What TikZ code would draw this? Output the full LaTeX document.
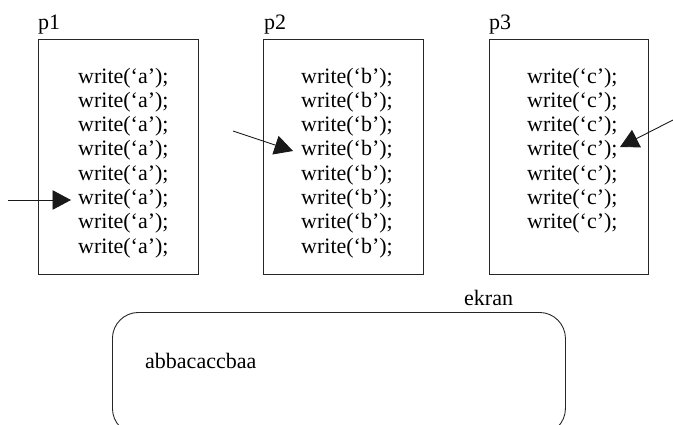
\documentclass[tikz,border=0pt]{standalone}
\usepackage{fontspec}
\setmainfont{Liberation Serif}
\usetikzlibrary{arrows.meta}

\tikzset{
  frame/.style={draw=black!85, line width=0.9pt, inner sep=0pt, anchor=north west},
  codeline/.style={anchor=base west, inner sep=0pt, font=\fontsize{22}{24}\selectfont},
  label/.style={anchor=base west, inner sep=0pt, font=\fontsize{22}{24}\selectfont},
  pointer/.style={draw=black!90, line width=0.9pt, -{Triangle[length=18.5pt,width=19.5pt]}}
}

\begin{document}
\begin{tikzpicture}[x=1pt, y=-1pt]
  \useasboundingbox (0,0) rectangle (673,424);
  \clip (0,0) rectangle (673,424);

  % process boxes
  \node[frame, minimum width=160pt, minimum height=235pt] (p1box) at (38,39) {};
  \node[frame, minimum width=160pt, minimum height=235pt] (p2box) at (263,39) {};
  \node[frame, minimum width=159pt, minimum height=235pt] (p3box) at (489,39) {};

  % box titles
  \node[label] (p1) at (38,29) {p1};
  \node[label] (p2) at (264,29) {p2};
  \node[label] (p3) at (489,29) {p3};

  % code listings
  \foreach \k in {1,...,8}
    \node[codeline] (a\k) at (78, {83+24.3*(\k-1)}) {write(‘a’);};
  \foreach \k in {1,...,8}
    \node[codeline] (b\k) at (301, {83+24.3*(\k-1)}) {write(‘b’);};
  \foreach \k in {1,...,7}
    \node[codeline] (c\k) at (527, {83+24.3*(\k-1)}) {write(‘c’);};

  % instruction pointers
  \coordinate (s1) at (8,200);
  \coordinate (t1) at (71,200);
  \coordinate (s2) at (233,131);
  \coordinate (t2) at (293,151);
  \coordinate (s3) at (673,120);
  \coordinate (t3) at (620,147);
  \draw[pointer] (s1) -- (t1);
  \draw[pointer] (s2) -- (t2);
  \draw[pointer] (s3) -- (t3);

  % screen
  \node[frame, rounded corners=26pt, minimum width=453pt, minimum height=122pt] (screen) at (112,312) {};
  \node[label] (ekran) at (464,305) {ekran};
  \node[label] (out) at (145,368) {abbacaccbaa};
\end{tikzpicture}
\end{document}
